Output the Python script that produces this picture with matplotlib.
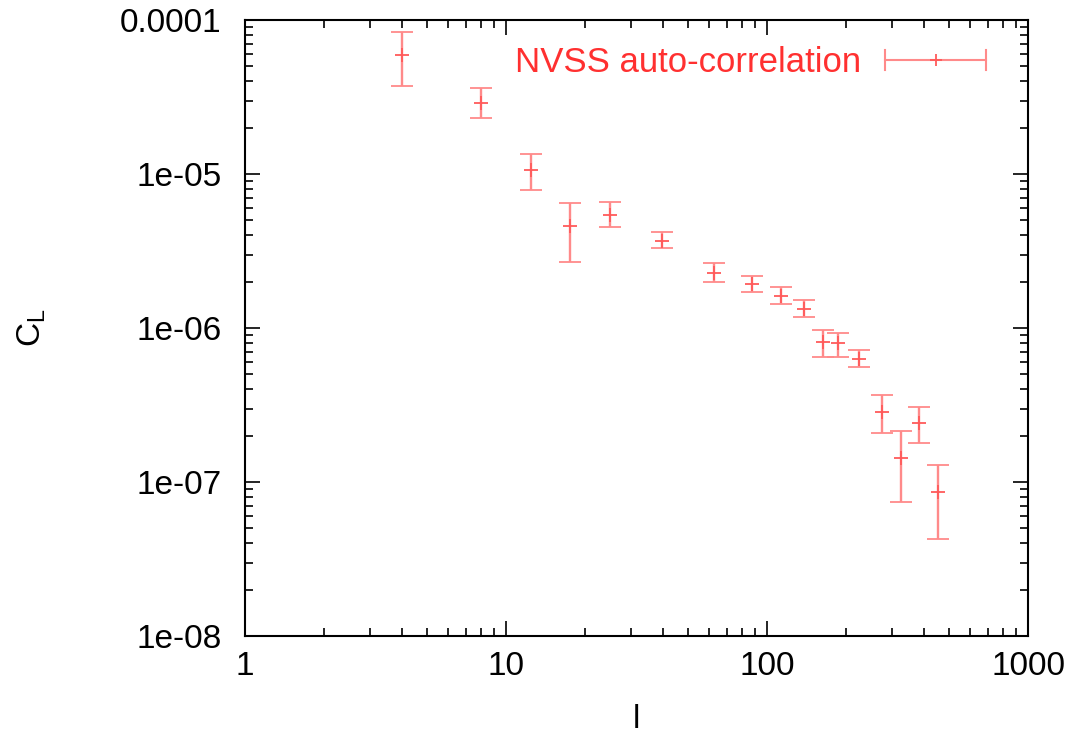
import matplotlib.pyplot as plt
from matplotlib.legend_handler import HandlerBase
from matplotlib.lines import Line2D
import numpy as np

plt.rcParams['font.family'] = ['Liberation Sans', 'DejaVu Sans']

# multipole l, C_L and the error bar ends
ell = [4.0, 8.0, 12.5, 17.6, 25.0, 39.6, 62.7, 87.9, 112.7, 138.6,
       163.4, 187.5, 225.7, 276.5, 325.0, 383.6, 453.0]
cl = [5.9e-5, 2.9e-5, 1.06e-5, 4.6e-6, 5.4e-6, 3.67e-6, 2.29e-6, 1.93e-6, 1.61e-6,
      1.33e-6, 8.1e-7, 7.96e-7, 6.32e-7, 2.86e-7, 1.44e-7, 2.43e-7, 8.65e-8]
cl_hi = [8.4e-5, 3.6e-5, 1.35e-5, 6.5e-6, 6.6e-6, 4.2e-6, 2.63e-6, 2.19e-6, 1.84e-6,
         1.52e-6, 9.7e-7, 9.3e-7, 7.2e-7, 3.67e-7, 2.15e-7, 3.05e-7, 1.28e-7]
cl_lo = [3.73e-5, 2.31e-5, 7.9e-6, 2.7e-6, 4.5e-6, 3.3e-6, 1.98e-6, 1.71e-6, 1.43e-6,
         1.17e-6, 6.5e-7, 6.45e-7, 5.56e-7, 2.09e-7, 7.45e-8, 1.78e-7, 4.27e-8]

cl = np.array(cl)
yerr = [cl - np.array(cl_lo), np.array(cl_hi) - cl]

bar_col = '#ff8a8a'
mark_col = '#ff5a5a'
text_col = '#ff3030'
fs = 24


class HorizErrHandler(HandlerBase):
    # gnuplot style key: horizontal bar with caps and a cross in the middle
    def create_artists(self, legend, orig, xd, yd, w, h, fontsize, trans):
        y = yd + h / 2
        cap = h * 0.4
        arts = [
            Line2D([xd, xd + w], [y, y], color=bar_col, lw=1.5),
            Line2D([xd, xd], [y - cap, y + cap], color=bar_col, lw=1.5),
            Line2D([xd + w, xd + w], [y - cap, y + cap], color=bar_col, lw=1.5),
            Line2D([xd + w / 2], [y], marker='+', color=mark_col, ms=9, mew=1.3, ls='none'),
        ]
        for a in arts:
            a.set_transform(trans)
        return arts


fig = plt.figure(figsize=(10.91, 7.36), dpi=100)
ax = fig.add_axes([0.2246, 0.1359, 0.7177, 0.8369])

eb = ax.errorbar(ell, cl, yerr=yerr, fmt='+', color=mark_col, ecolor=bar_col,
                 elinewidth=1.7, capsize=8, capthick=1.7, ms=10, mew=1.3)

ax.set_xscale('log')
ax.set_yscale('log')
ax.set_xlim(1, 1000)
ax.set_ylim(1e-8, 1e-4)

ax.set_xticks([1, 10, 100, 1000])
ax.set_xticklabels(['1', '10', '100', '1000'])
ax.set_yticks([1e-8, 1e-7, 1e-6, 1e-5, 1e-4])
ax.set_yticklabels(['1e-08', '1e-07', '1e-06', '1e-05', '0.0001'])

ax.tick_params(which='both', direction='in', top=True, right=True, labelsize=fs, width=1.2)
ax.tick_params(axis='x', which='major', length=11, pad=11)
ax.tick_params(axis='y', which='major', length=11, pad=17)
ax.tick_params(which='minor', length=6)
for s in ax.spines.values():
    s.set_linewidth(1.5)

ax.set_xlabel('l', fontsize=fs, labelpad=16)
ax.set_ylabel(r'C$_\mathregular{L}$', fontsize=fs, labelpad=52)

leg = ax.legend([eb], ['NVSS auto-correlation'], loc='upper right',
                handler_map={type(eb): HorizErrHandler()}, markerfirst=False,
                frameon=False, fontsize=25, handlelength=2.9, handletextpad=0.7,
                borderaxespad=0.4, bbox_to_anchor=(0.982, 1.003))
for t in leg.get_texts():
    t.set_color(text_col)

fig.savefig('out.png', dpi=100)
